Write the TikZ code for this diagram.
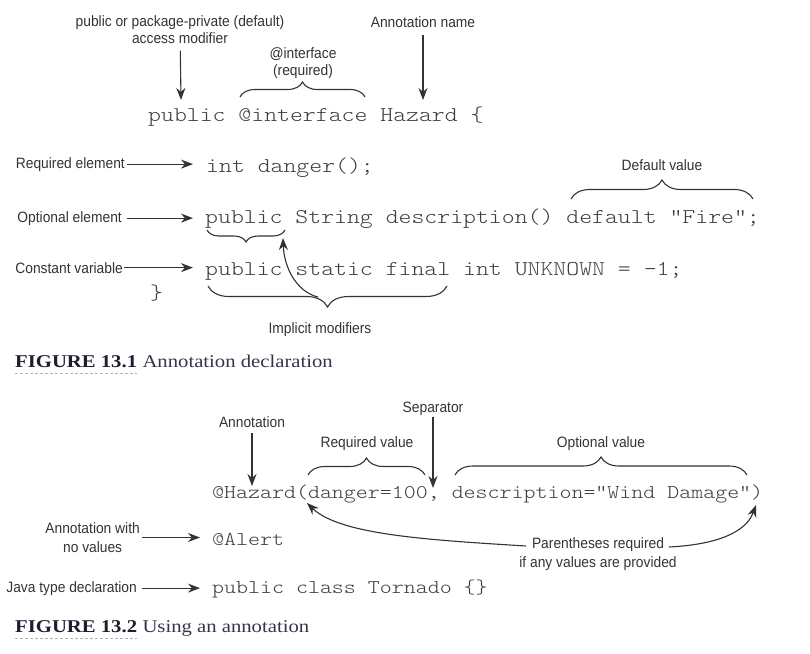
\documentclass[tikz,border=0pt]{standalone}
\usepackage{fontspec}
\setmainfont{Liberation Sans}
\newfontfamily\labelfont[FakeStretch=0.92]{Liberation Sans}
\newfontfamily\codefont[FakeStretch=1.17]{lmmonolt10-regular.otf}
\newfontfamily\capfont[FakeStretch=1.15]{Liberation Serif}
\usetikzlibrary{arrows.meta, decorations.pathreplacing}

\definecolor{ink}{HTML}{333333}
\definecolor{codeink}{HTML}{3C3C3C}
\definecolor{capink}{HTML}{1E1E30}
\definecolor{captext}{HTML}{34344A}

\tikzset{
  lbl/.style={inner sep=0pt, text=ink, align=center, font=\labelfont\fontsize{15}{17}\selectfont},
  lblwide/.style={lbl, font=\labelfont\fontsize{15}{19}\selectfont},
  codeline/.style={inner sep=0pt, anchor=base west, text=codeink, font=\codefont\fontsize{21}{21}\selectfont},
  codesmall/.style={codeline, font=\codefont\fontsize{19.5}{19.5}\selectfont},
  arr/.style={-{Stealth[length=12pt, width=9pt]}, line width=1.1pt, draw=ink},
  brc/.style={decorate, decoration={brace, amplitude=#1}, line width=1.1pt, draw=ink},
  capnum/.style={inner sep=0pt, anchor=base west, text=capink, font=\capfont\bfseries\fontsize{18}{18}\selectfont},
  captxt/.style={inner sep=0pt, anchor=base west, text=captext, font=\capfont\fontsize{18}{18}\selectfont},
  capline/.style={draw=gray!60, dashed, dash pattern=on 3pt off 2pt, line width=0.8pt},
}

\begin{document}
\begin{tikzpicture}[x=1pt, y=-1pt]

    \useasboundingbox (0, 0) rectangle (810, 653);

    % Figure 13.1: code
    \node[codeline] (cDecl) at (148, 121) {public @interface Hazard \{};
    \node[codeline] (cDanger) at (206, 172) {int danger();};
    \node[codeline] (cDesc) at (205, 223) {public String description() default "Fire";};
    \node[codeline] (cConst) at (205, 275) {public static final int UNKNOWN = -1;};
    \node[codeline] (cClose) at (150, 299) {\}};

    % Figure 13.1: labels
    \node[lbl] (lAccess) at (180, 29.5) {public or package-private (default)\\access modifier};
    \node[lbl] (lIface) at (303, 63) {@interface\\(required)};
    \node[lbl, anchor=base] (lName) at (423, 27) {Annotation name};
    \node[lbl, anchor=base east] (lReq) at (125, 168) {Required element};
    \node[lbl, anchor=base east] (lOpt) at (122, 222) {Optional element};
    \node[lbl, anchor=base east] (lConst) at (123, 273) {Constant variable};
    \node[lbl, anchor=base] (lDefault) at (662, 170) {Default value};
    \node[lbl, anchor=base] (lImplicit) at (320, 333) {Implicit modifiers};

    % Figure 13.1: arrows
    \coordinate (tAccess) at (181, 100);
    \coordinate (tName) at (423, 100);
    \draw[arr, shorten <=7pt] (lAccess) -- (tAccess);
    \draw[arr, shorten <=8pt] (lName) -- (tName);
    \draw[arr, shorten <=2pt, shorten >=13pt] (lReq.east) -- (lReq.east -| cDanger.west);
    \draw[arr, shorten <=5pt, shorten >=12pt] (lOpt.east) -- (lOpt.east -| cDesc.west);
    \draw[arr, shorten <=1pt, shorten >=12pt] (lConst.east) -- (lConst.east -| cConst.west);

    % Figure 13.1: braces
    \draw[brc=15pt] (240, 97) -- (365, 97);
    \draw[brc=19pt] (571, 199) -- (753, 199);
    \draw[brc=12pt] (285, 230) -- (207, 230);
    \draw[brc=21pt] (447, 286) -- (208, 286);

    % Implicit modifiers back to public
    \coordinate (sImpl) at (318, 297);
    \coordinate (tPub) at (283, 238);
    \draw[arr] (sImpl) .. controls (297, 292) and (284, 268) .. (tPub);

    % Figure 13.1: caption
    \node[capnum] (capFig1) at (15, 367) {FIGURE 13.1};
    \node[captxt] (capTxt1) at ([xshift=5pt]capFig1.base east) {Annotation declaration};
    \draw[capline] ([yshift=-6pt]capFig1.base west) -- ([yshift=-6pt]capFig1.base east);

    % Figure 13.2: code
    \node[codesmall] (cUse) at (212, 498) {@Hazard(danger=100, description="Wind Damage")};
    \node[codesmall] (cAlert) at (212, 545) {@Alert};
    \node[codesmall] (cClass) at (212, 593) {public class Tornado \{\}};

    % Figure 13.2: labels
    \node[lbl, anchor=base] (lAnno) at (252, 427) {Annotation};
    \node[lbl, anchor=base] (lSep) at (433, 412) {Separator};
    \node[lbl, anchor=base] (lReqVal) at (367, 447) {Required value};
    \node[lbl, anchor=base] (lOptVal) at (601, 447) {Optional value};
    \node[lblwide, anchor=east] (lWith) at (140, 537.5) {Annotation with\\no values};
    \node[lbl, anchor=base east] (lJava) at (137, 592) {Java type declaration};
    \node[lblwide] (lParen) at (598, 554) {Parentheses required\\if any values are provided};

    % Figure 13.2: arrows
    \coordinate (tAnno) at (252, 486);
    \coordinate (tSep) at (433, 488);
    \draw[arr, shorten <=6pt] (lAnno) -- (tAnno);
    \draw[arr, shorten <=2pt] (lSep) -- (tSep);
    \draw[arr, shorten <=2pt, shorten >=12pt] (lWith.east) -- (lWith.east -| cAlert.west);
    \draw[arr, shorten <=5pt, shorten >=12pt] (lJava.east) -- (lJava.east -| cClass.west);

    % Figure 13.2: braces
    \draw[brc=17pt] (308, 475) -- (425, 475);
    \draw[brc=18pt] (455, 475) -- (747, 475);

    % Parentheses
    \coordinate (pLeft) at (526, 546);
    \coordinate (pRight) at (669, 547);
    \coordinate (tOpen) at (307, 503);
    \coordinate (tClose) at (756, 505);
    \draw[arr] (pLeft) .. controls (430, 540) and (340, 535) .. (tOpen);
    \draw[arr] (pRight) .. controls (710, 545) and (745, 535) .. (tClose);

    % Figure 13.2: caption
    \node[capnum] (capFig2) at (15, 632) {FIGURE 13.2};
    \node[captxt] (capTxt2) at ([xshift=5pt]capFig2.base east) {Using an annotation};
    \draw[capline] ([yshift=-6pt]capFig2.base west) -- ([yshift=-6pt]capFig2.base east);

\end{tikzpicture}
\end{document}
